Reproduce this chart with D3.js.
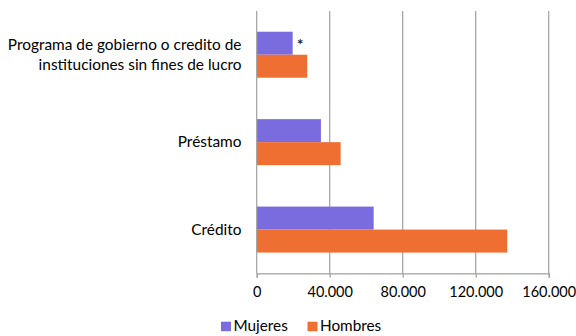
<!DOCTYPE html>
<html><head><meta charset="utf-8">
<script src="https://cdn.jsdelivr.net/npm/d3@7"></script>
<style>body{margin:0;background:#fff;} text{font-family:Lato,"Open Sans",sans-serif;}</style>
</head><body>
<svg id="c" width="576" height="336"></svg>
<script>
const categories = ["Programa de gobierno o credito de\ninstituciones sin fines de lucro", "Préstamo", "Crédito"];
const seriesNames = ["Mujeres", "Hombres"];
const mujeres = [19700, 35200, 64100];
const hombres = [27700, 46000, 137300];
const xTicks = [0, 40000, 80000, 120000, 160000];
const tickLabels = ["0", "40.000", "80.000", "120.000", "160.000"];
const colors = ["#7A6CDE", "#EF6F33"];
const noteMarks = ["*", "", ""];

const svg = d3.select("#c");
const m = {l:256.7, r:548.7, t:11, b:273.3};
const x = d3.scaleLinear().domain([0,160000]).range([m.l, m.r]);
const y = d3.scaleBand().domain(categories).range([m.t, m.b]).paddingInner(0.474).paddingOuter(0.237);
const y1 = d3.scaleBand().domain(seriesNames).range([0, y.bandwidth()]);

// gridlines
svg.append("g").selectAll("line").data(xTicks.slice(1)).join("line")
  .attr("x1", d=>x(d)).attr("x2", d=>x(d)).attr("y1", m.t).attr("y2", m.b)
  .attr("stroke", "#A0A0A0").attr("stroke-width", 1.2);

const data = categories.map((c,i)=>({c, vals:[mujeres[i], hombres[i]], note:noteMarks[i]}));
const g = svg.append("g");
data.forEach(d=>{
  d.vals.forEach((v,j)=>{
    g.append("rect").attr("x", x(0)).attr("y", y(d.c)+y1(seriesNames[j]))
     .attr("width", x(v)-x(0)).attr("height", y1.bandwidth()).attr("fill", colors[j]);
  });
  if(d.note){
    svg.append("text").attr("x", x(d.vals[0])+7.5).attr("y", y(d.c)+y1.bandwidth()/2+7)
      .attr("text-anchor","middle").attr("font-size",15).attr("font-weight","bold").attr("fill","#222").text(d.note);
  }
});

// left axis line
svg.append("line").attr("x1", x(0)).attr("x2", x(0)).attr("y1", m.t).attr("y2", m.b).attr("stroke","#A0A0A0").attr("stroke-width",1.2);

// bottom axis
const xa = svg.append("g").attr("transform", `translate(0,${m.b})`)
  .call(d3.axisBottom(x).tickValues(xTicks).tickFormat((d,i)=>tickLabels[i]).tickSizeOuter(0).tickSize(4.5).tickPadding(9));
xa.select(".domain").attr("stroke","#A0A0A0").attr("stroke-width",1.2);
xa.selectAll(".tick line").attr("stroke","#A0A0A0").attr("stroke-width",1.2);
xa.selectAll(".tick text").attr("font-size",14.5).attr("fill","#000").attr("font-family","Lato,'Open Sans',sans-serif");

// category labels
data.forEach(d=>{
  const lines = d.c.split("\n");
  const cy = y(d.c) + y.bandwidth()/2;
  const lh = 20;
  const t = svg.append("text").attr("text-anchor","end").attr("font-size",15.4).attr("fill","#000");
  lines.forEach((ln,i)=>{
    t.append("tspan").attr("x", 241.5).attr("y", cy - (lines.length-1)*lh/2 + i*lh + 5.3).text(ln);
  });
});

// legend
const leg = svg.append("g");
const legX = [221, 307.5];
seriesNames.forEach((s,i)=>{
  leg.append("rect").attr("x", legX[i]).attr("y", 321.7).attr("width", 10).attr("height", 9.5).attr("fill", colors[i]);
  leg.append("text").attr("x", legX[i]+12.5).attr("y", 331).attr("font-size",15.3).attr("fill","#000").text(s);
});
</script>
</body></html>
